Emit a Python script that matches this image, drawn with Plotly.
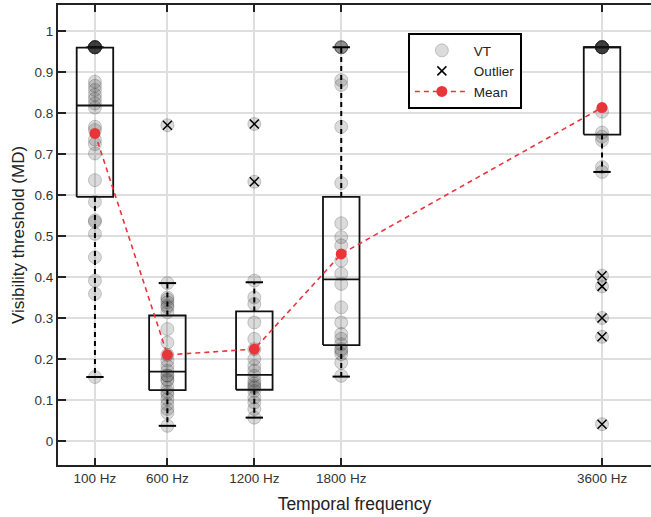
import plotly.graph_objects as go

# ---------------- data ----------------
frequencies = [100, 600, 1200, 1800, 3600]
tick_labels = ["100 Hz", "600 Hz", "1200 Hz", "1800 Hz", "3600 Hz"]

vt_100 = [0.96] * 12 + [0.876, 0.866, 0.856, 0.844, 0.834, 0.823, 0.813, 0.766, 0.758,
                        0.735, 0.724, 0.701, 0.636, 0.583, 0.538, 0.534, 0.505, 0.448,
                        0.391, 0.359, 0.156]
vt_600 = [0.770, 0.385, 0.350, 0.345, 0.338, 0.330, 0.326, 0.314, 0.273, 0.240, 0.210,
          0.196, 0.183, 0.171, 0.160, 0.159, 0.150, 0.147, 0.130, 0.120, 0.114, 0.102,
          0.090, 0.078, 0.069, 0.037]
vt_1200 = [0.773, 0.632, 0.391, 0.350, 0.334, 0.289, 0.249, 0.224, 0.200, 0.183, 0.171,
           0.159, 0.147, 0.140, 0.134, 0.130, 0.122, 0.106, 0.094, 0.078, 0.057]
vt_1800 = [0.96] * 4 + [0.880, 0.868, 0.766, 0.629, 0.531, 0.497, 0.477, 0.440, 0.408,
                        0.383, 0.326, 0.289, 0.261, 0.249, 0.236, 0.224, 0.220, 0.212,
                        0.191, 0.159]
vt_3600 = [0.96] * 12 + [0.803, 0.752, 0.742, 0.733, 0.668, 0.656, 0.403, 0.377, 0.300,
                         0.254, 0.041]
vt_groups = [vt_100, vt_600, vt_1200, vt_1800, vt_3600]

outliers = [[], [0.770], [0.773, 0.632], [], [0.403, 0.377, 0.300, 0.254, 0.041]]

q1 = [0.595, 0.124, 0.125, 0.234, 0.747]
median = [0.818, 0.169, 0.161, 0.394, 0.960]
q3 = [0.959, 0.306, 0.316, 0.595, 0.960]
whisker_low = [0.156, 0.037, 0.057, 0.157, 0.656]
whisker_high = [0.960, 0.385, 0.387, 0.960, 0.960]

means = [0.750, 0.210, 0.224, 0.456, 0.813]

# ---------------- figure ----------------
BOX_HALF = 126
CAP_HALF = 60
FONT = "Liberation Sans, Arial, sans-serif"

fig = go.Figure()

# VT points
vx, vy = [], []
for f, vals in zip(frequencies, vt_groups):
    vx += [f] * len(vals)
    vy += vals
fig.add_trace(go.Scatter(
    x=vx, y=vy, mode="markers", name="VT",
    marker=dict(size=13, color="rgba(40,40,40,0.17)",
                line=dict(color="rgba(40,40,40,0.22)", width=1)),
))

# boxes
bx, by, mx, my, wx, wy, cx, cy = [], [], [], [], [], [], [], []
for f, a, m, b, lo, hi in zip(frequencies, q1, median, q3, whisker_low, whisker_high):
    bx += [f - BOX_HALF, f + BOX_HALF, f + BOX_HALF, f - BOX_HALF, f - BOX_HALF, None]
    by += [a, a, b, b, a, None]
    mx += [f - BOX_HALF, f + BOX_HALF, None]
    my += [m, m, None]
    if hi > b:
        wx += [f, f, None]
        wy += [b, hi, None]
        cx += [f - CAP_HALF, f + CAP_HALF, None]
        cy += [hi, hi, None]
    if lo < a:
        wx += [f, f, None]
        wy += [a, lo, None]
        cx += [f - CAP_HALF, f + CAP_HALF, None]
        cy += [lo, lo, None]

fig.add_trace(go.Scatter(x=wx, y=wy, mode="lines", showlegend=False, hoverinfo="skip",
                         line=dict(color="black", width=2, dash="5px,4px")))
fig.add_trace(go.Scatter(x=cx, y=cy, mode="lines", showlegend=False, hoverinfo="skip",
                         line=dict(color="black", width=2)))
fig.add_trace(go.Scatter(x=bx, y=by, mode="lines", showlegend=False, hoverinfo="skip",
                         line=dict(color="#111111", width=1.8)))
fig.add_trace(go.Scatter(x=mx, y=my, mode="lines", showlegend=False, hoverinfo="skip",
                         line=dict(color="#111111", width=1.8)))

# outliers
ox, oy = [], []
for f, vals in zip(frequencies, outliers):
    ox += [f] * len(vals)
    oy += vals
fig.add_trace(go.Scatter(
    x=ox, y=oy, mode="markers", name="Outlier",
    marker=dict(symbol="x-thin", size=9, color="black",
                line=dict(color="black", width=1.5)),
))

# means
fig.add_trace(go.Scatter(
    x=frequencies, y=means, mode="lines+markers", name="Mean",
    line=dict(color="#e8353a", width=1.6, dash="5px,4px"),
    marker=dict(size=11, color="#e8353a"),
))

fig.update_layout(
    width=651, height=517,
    margin=dict(l=58, r=0, t=5, b=52),
    paper_bgcolor="white", plot_bgcolor="white",
    font=dict(family=FONT, size=13, color="#333333"),
    legend=dict(
        x=0.59, y=0.939, xanchor="left", yanchor="top",
        bordercolor="black", borderwidth=2, bgcolor="white",
        font=dict(size=13.5, color="#222222"), itemwidth=54,
        tracegroupgap=0,
    ),
    showlegend=True,
)
fig.update_xaxes(
    range=[-155, 3938], automargin=False,
    tickmode="array", tickvals=frequencies, ticktext=tick_labels,
    tickfont=dict(size=13.5),
    ticks="inside", ticklen=7, tickwidth=2, tickcolor="#222222",
    showline=True, linecolor="#222222", linewidth=2, mirror="ticks",
    showgrid=True, gridcolor="#dedede", gridwidth=1.5, zeroline=False,
    title=dict(text="Temporal frequency", font=dict(size=17.5, color="#222222"), standoff=13),
)
fig.update_yaxes(
    range=[-0.0585, 1.063], automargin=False,
    tickmode="array", tickvals=[0, 0.1, 0.2, 0.3, 0.4, 0.5, 0.6, 0.7, 0.8, 0.9, 1],
    ticktext=["0", "0.1", "0.2", "0.3", "0.4", "0.5", "0.6", "0.7", "0.8", "0.9", "1"],
    tickfont=dict(size=13.5),
    ticks="inside", ticklen=8, tickwidth=2, tickcolor="#222222",
    showline=True, linecolor="#222222", linewidth=2,
    showgrid=True, gridcolor="#dedede", gridwidth=1.5, zeroline=False,
    title=dict(text="Visibility threshold (MD)", font=dict(size=17, color="#222222"), standoff=6),
)

fig.write_html("out.html", config={"displayModeBar": False},
               post_script="document.body.style.margin='0';")
